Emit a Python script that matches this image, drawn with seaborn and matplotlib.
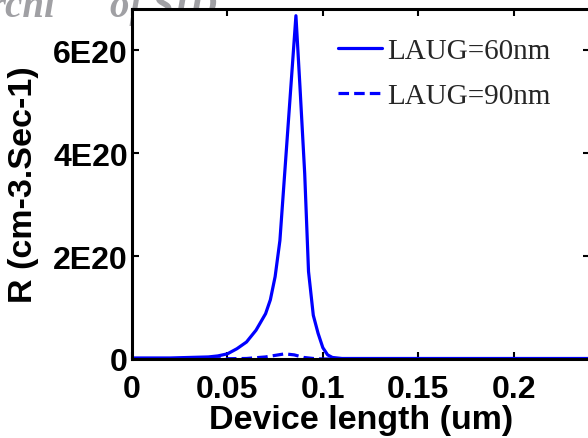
import numpy as np
import pandas as pd
import matplotlib
matplotlib.use("Agg")
import matplotlib.pyplot as plt
import seaborn as sns
from matplotlib.lines import Line2D

# Data (x in um, R in units of 1e20 cm-3.s-1)
x60 = [0.0, 0.02, 0.03, 0.04, 0.045, 0.05, 0.055, 0.06, 0.065, 0.07, 0.0725, 0.075,
       0.0775, 0.08, 0.0825, 0.0859, 0.088, 0.0905, 0.0925, 0.095, 0.0975, 0.1,
       0.1025, 0.105, 0.11, 0.24]
r60 = [0.02, 0.02, 0.03, 0.04, 0.06, 0.1, 0.2, 0.33, 0.56, 0.88, 1.15, 1.6,
       2.3, 3.6, 4.9, 6.67, 5.3, 3.6, 1.7, 0.85, 0.5, 0.22,
       0.08, 0.03, 0.01, 0.01]
x90 = [0.0, 0.05, 0.06, 0.07, 0.075, 0.08, 0.085, 0.09, 0.095, 0.1, 0.24]
r90 = [0.0, 0.005, 0.01, 0.04, 0.07, 0.1, 0.08, 0.03, 0.01, 0.0, 0.0]
labels = ["LAUG=60nm", "LAUG=90nm"]
xticks = [0, 0.05, 0.1, 0.15, 0.2]
xticklabels = ["0", "0.05", "0.1", "0.15", "0.2"]
yticks = [0, 2e20, 4e20, 6e20]
yticklabels = ["0", "2E20", "4E20", "6E20"]

df60 = pd.DataFrame({"x": x60, "R": np.array(r60) * 1e20})
df90 = pd.DataFrame({"x": x90, "R": np.array(r90) * 1e20})

sns.set_style("ticks")
plt.rcParams['font.family'] = ['Liberation Sans', 'DejaVu Sans']

W, H = 588, 439
fig = plt.figure(figsize=(W / 100, H / 100), dpi=100)
L, R_, T, B = 132, 590, 10, 360
ax = fig.add_axes([L / W, 1 - B / H, (R_ - L) / W, (B - T) / H])

blue = (0, 0, 1)
sns.lineplot(data=df60, x="x", y="R", ax=ax, color=blue, lw=2.3, estimator=None, sort=False)
sns.lineplot(data=df90, x="x", y="R", ax=ax, color=blue, lw=2.3, estimator=None, sort=False,
             linestyle=(0, (3.3, 1.6)))

ax.set_xlim(0, 0.24)
ax.set_ylim(0, 6.8e20)
ax.set_xticks(xticks)
ax.set_xticklabels(xticklabels)
ax.set_yticks(yticks)
ax.set_yticklabels(yticklabels)
ax.tick_params(direction='in', length=5, width=1.5, top=True, right=True,
               labelsize=23, colors='black')
ax.tick_params(axis='x', pad=11)
ax.tick_params(axis='y', pad=3)
for lab in ax.get_xticklabels() + ax.get_yticklabels():
    lab.set_fontweight('bold')
for s in ax.spines.values():
    s.set_linewidth(2.2)
    s.set_color('black')

ax.set_xlabel("Device length (um)", fontsize=24.5, fontweight='bold', labelpad=0, color='black')
ax.set_ylabel("R (cm-3.Sec-1)", fontsize=24.5, fontweight='bold', labelpad=10, color='black')

handles = [Line2D([], [], color=blue, lw=2.3),
           Line2D([], [], color=blue, lw=2.3, linestyle=(0, (3.3, 1.6)))]
leg = ax.legend(handles, labels, loc='upper left', bbox_to_anchor=(338 / W, 1 - 39 / H),
                bbox_transform=fig.transFigure, frameon=False, borderpad=0, borderaxespad=0,
                handlelength=1.5, handletextpad=0.2, labelspacing=0.62,
                prop={'family': 'Liberation Serif', 'size': 21})

# watermark (partly hidden behind the axes)
fig.text(55 / W, 1 - 17 / H, "rchi", ha='right', va='baseline', fontsize=28,
         family='Liberation Serif', style='italic', fontweight='bold', color='#a0a0a4', zorder=-1)
fig.text(110 / W, 1 - 17 / H, "of SID", ha='left', va='baseline', fontsize=28,
         family='Liberation Serif', style='italic', fontweight='bold', color='#a0a0a4', zorder=-1)

fig.savefig("out.png", dpi=100)
